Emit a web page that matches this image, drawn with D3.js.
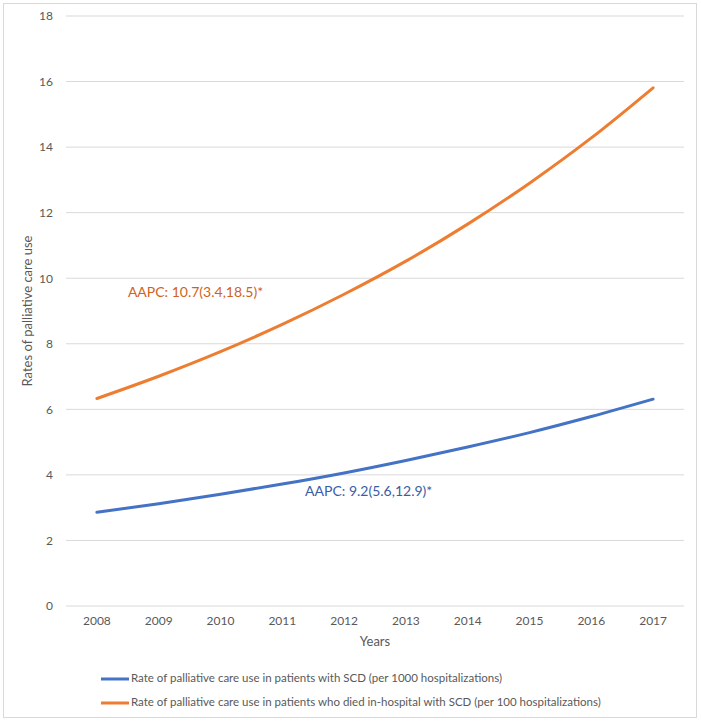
<!DOCTYPE html>
<html><head><meta charset="utf-8">
<script src="https://cdn.jsdelivr.net/npm/d3@7"></script>
<style>body{margin:0;background:#fff}svg{display:block}</style>
</head><body><svg id="c" width="701" height="722"></svg>
<script>
const years = ["2008","2009","2010","2011","2012","2013","2014","2015","2016","2017"];
const scdRate = [2.86, 3.12, 3.41, 3.72, 4.06, 4.44, 4.85, 5.29, 5.78, 6.31];
const diedRate = [6.33, 7.01, 7.76, 8.59, 9.51, 10.52, 11.65, 12.90, 14.28, 15.81];
const yTicks = [0,2,4,6,8,10,12,14,16,18];
const seriesNames = [
  "Rate of palliative care use in patients with SCD (per 1000 hospitalizations)",
  "Rate of palliative care use in patients who died in-hospital with SCD (per 100 hospitalizations)"
];
const annotations = [
  {text:"AAPC: 10.7(3.4,18.5)*", year:"2008", value:9.55, series:1},
  {text:"AAPC: 9.2(5.6,12.9)*", year:"2012", value:3.45, series:0}
];

const font = "Lato, 'Open Sans', sans-serif";
const svg = d3.select("#c");
svg.append("rect").attr("x",3.5).attr("y",3.5).attr("width",693).attr("height",714)
  .attr("fill","#fff").attr("stroke","#d9d9d9");

const x = d3.scaleBand().domain(years).range([66,684]);
const y = d3.scaleLinear().domain([0,18]).range([606,16]);

const g = svg.append("g");
g.selectAll("line.grid").data(yTicks).join("line")
  .attr("x1",66).attr("x2",684).attr("y1",d=>y(d)).attr("y2",d=>y(d))
  .attr("stroke","#d9d9d9").attr("stroke-width",1);

const yAxis = g.append("g").attr("transform","translate(66,0)")
  .call(d3.axisLeft(y).tickValues(yTicks).tickSize(0).tickPadding(13));
yAxis.select(".domain").remove();
yAxis.selectAll("text").attr("font-family",font).attr("font-size",12).attr("fill","#595959");

const xAxis = g.append("g").attr("transform","translate(0,606)")
  .call(d3.axisBottom(x).tickSize(0).tickPadding(10));
xAxis.select(".domain").remove();
xAxis.selectAll("text").attr("font-family",font).attr("font-size",12).attr("fill","#595959");

svg.append("text").attr("x",375).attr("y",646).attr("text-anchor","middle")
  .attr("font-family",font).attr("font-size",13).attr("fill","#595959").text("Years");
svg.append("text").attr("transform","translate(32,311) rotate(-90)").attr("text-anchor","middle")
  .attr("font-family",font).attr("font-size",13).attr("fill","#595959").text("Rates of palliative care use");

const colors = ["#4472C4","#ED7D31"];
const textColors = ["#3A5DA8","#D0631C"];
const line = d3.line().x((d,i)=>x(years[i])+x.bandwidth()/2).y(d=>y(d)).curve(d3.curveMonotoneX);
[scdRate, diedRate].forEach((s,k)=>{
  g.append("path").attr("d",line(s)).attr("fill","none").attr("stroke",colors[k])
    .attr("stroke-width",3).attr("stroke-linecap","round");
});

annotations.forEach(a=>{
  svg.append("text").attr("x",x(a.year)+x.bandwidth()/2 + (a.series===1?31:-39)).attr("y",y(a.value))
    .attr("dominant-baseline","middle")
    .attr("font-family",font).attr("font-size",14).attr("fill",textColors[a.series]).text(a.text);
});

seriesNames.forEach((n,k)=>{
  const yy = 679 + k*24;
  svg.append("line").attr("x1",101).attr("x2",129).attr("y1",yy).attr("y2",yy)
    .attr("stroke",colors[k]).attr("stroke-width",3);
  svg.append("text").attr("x",131).attr("y",yy).attr("dominant-baseline","middle")
    .attr("font-family",font).attr("font-size",11.5).attr("fill","#595959").text(n);
});
</script></body></html>
